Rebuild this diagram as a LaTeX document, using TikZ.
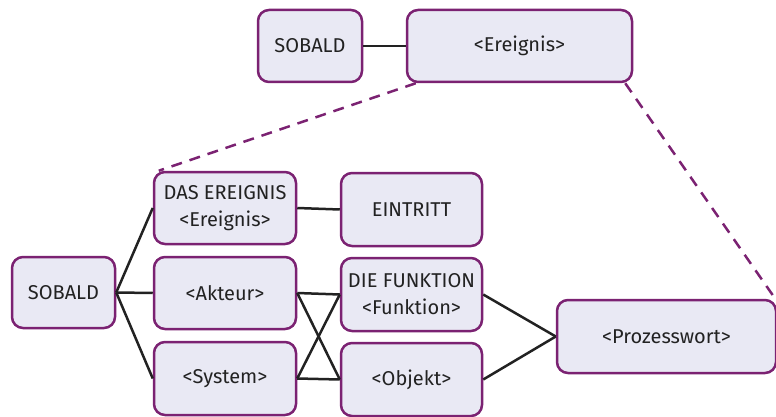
\documentclass[tikz,border=0pt]{standalone}
\usepackage{fontspec}
\setmainfont{Fira Sans}
\definecolor{boxborder}{HTML}{7B2272}
\definecolor{boxfill}{HTML}{E9E9F4}
\definecolor{txt}{HTML}{222222}
\begin{document}
\begin{tikzpicture}[x=1pt,y=-1pt,
  box/.style={draw=boxborder,fill=boxfill,line width=2.5pt,rounded corners=11pt,
    minimum width=#1,inner sep=0pt,text=txt,font=\fontsize{20}{27}\selectfont,align=center},
  conn/.style={draw=txt,line width=2.5pt},
  dashconn/.style={draw=boxborder,line width=2.5pt,dash pattern=on 11pt off 8pt}]
\useasboundingbox (0,0) rectangle (776,417);
\node[box=104pt,minimum height=72pt] (tsobald) at (310,46) {SOBALD};
\node[box=225pt,minimum height=72pt] (tereignis) at (519.5,46) {<Ereignis>};
\node[box=103pt,minimum height=71pt] (sobald) at (63.5,292.5) {SOBALD};
\node[box=142pt,minimum height=72pt] (ereignis) at (225,208) {DAS EREIGNIS\\<Ereignis>};
\node[box=142pt,minimum height=72pt] (akteur) at (225,293) {<Akteur>};
\node[box=142pt,minimum height=73pt] (system) at (225,378.5) {<System>};
\node[box=141pt,minimum height=73pt] (eintritt) at (411.5,209.5) {EINTRITT};
\node[box=141pt,minimum height=73pt] (funktion) at (411.5,294.5) {DIE FUNKTION\\<Funktion>};
\node[box=141pt,minimum height=73pt] (objekt) at (411.5,379.5) {<Objekt>};
\node[box=219pt,minimum height=73pt] (prozess) at (666.5,336.5) {<Prozesswort>};
\draw[conn] (tsobald.east) -- (tereignis.west);
\draw[conn] (sobald.east) -- (ereignis.west);
\draw[conn] (sobald.east) -- (akteur.west);
\draw[conn] (sobald.east) -- (system.west);
\draw[conn] (ereignis.east) -- (eintritt.west);
\draw[conn] (akteur.east) -- (funktion.west);
\draw[conn] (akteur.east) -- (objekt.west);
\draw[conn] (system.east) -- (objekt.west);
\draw[conn] (system.east) -- (funktion.west);
\draw[conn] (funktion.east) -- (prozess.west);
\draw[conn] (objekt.east) -- (prozess.west);
\draw[dashconn] ([xshift=10pt]tereignis.south west) -- ([xshift=6pt]ereignis.north west);
\draw[dashconn] ([xshift=-8pt]tereignis.south east) -- ([xshift=-2pt]prozess.north east);
\end{tikzpicture}
\end{document}
